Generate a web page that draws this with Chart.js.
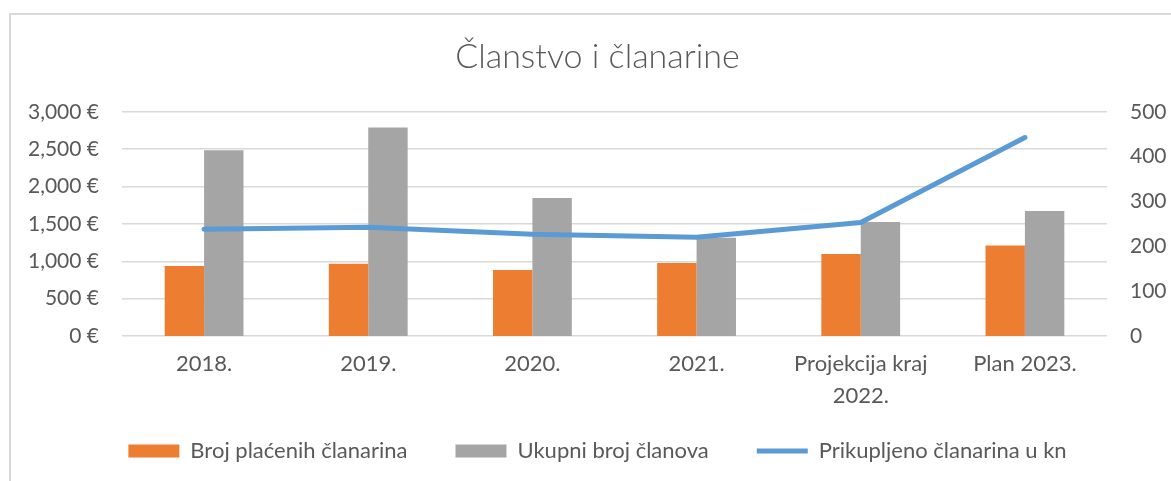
<!DOCTYPE html>
<html>
<head>
<meta charset="utf-8">
<script src="https://cdn.jsdelivr.net/npm/chart.js@4"></script>
<style>
  html, body { margin: 0; padding: 0; background: #fff; overflow: hidden; }
  #frame { position: absolute; left: 9px; top: 13px; width: 1300px; height: 600px;
           border-top: 2px solid #d9d9d9; border-left: 2px solid #d9d9d9; }
  #chart { position: absolute; left: 0; top: 0; }
</style>
</head>
<body>
<div id="frame"></div>
<canvas id="chart" width="1171" height="481"></canvas>
<script>
// values
let categories = ['2018.', '2019.', '2020.', '2021.', ['Projekcija kraj', '2022.'], 'Plan 2023.'];
let paidFees = [156, 161, 147, 163, 183, 202];        // Broj plaćenih članarina
let totalMembers = [414, 465, 308, 219, 254, 279];    // Ukupni broj članova
let collectedFees = [1429, 1455, 1362, 1320, 1518, 2656]; // Prikupljeno članarina u kn
let euroTicks = [0, 500, 1000, 1500, 2000, 2500, 3000];
let countTicks = [0, 100, 200, 300, 400, 500];

const textColor = '#595959';
const gridColor = '#d9d9d9';
Chart.defaults.font.family = 'Lato, "Open Sans", sans-serif';
Chart.defaults.color = textColor;

function withCommas(v) {
    return String(v).replace(/\B(?=(\d{3})+(?!\d))/g, ',');
}

let ctx = document.getElementById('chart').getContext('2d');
let membersChart = new Chart(ctx, {
    type: 'bar',
    data: {
        labels: categories,
        datasets: [{
            label: 'Broj plaćenih članarina',
            data: paidFees,
            backgroundColor: '#ed7d31',
            yAxisID: 'yCount',
            pointStyle: 'rect',
            order: 1
        }, {
            label: 'Ukupni broj članova',
            data: totalMembers,
            backgroundColor: '#a5a5a5',
            yAxisID: 'yCount',
            pointStyle: 'rect',
            order: 1
        }, {
            type: 'line',
            label: 'Prikupljeno članarina u kn',
            data: collectedFees,
            borderColor: '#5b9bd5',
            backgroundColor: '#5b9bd5',
            borderWidth: 5,
            borderCapStyle: 'round',
            borderJoinStyle: 'round',
            pointRadius: 0,
            pointStyle: 'line',
            tension: 0,
            yAxisID: 'yEuro',
            order: 0
        }]
    },
    options: {
        responsive: false,
        animation: false,
        categoryPercentage: 0.48,
        barPercentage: 1,
        // excel chart area runs past the right edge, so the title centre sits a bit right
        layout: { padding: { top: 0, left: 24, right: 0, bottom: 9 } },
        plugins: {
            title: {
                display: true,
                text: 'Članstvo i članarine',
                color: textColor,
                font: { size: 34, weight: 300, lineHeight: 1.2 },
                padding: { top: 37, bottom: 34 }
            },
            legend: {
                position: 'bottom',
                labels: {
                    usePointStyle: true,
                    pointStyleWidth: 51,
                    boxHeight: 13,
                    padding: 48,
                    color: textColor,
                    font: { size: 22 },
                    sort: (a, b) => a.datasetIndex - b.datasetIndex
                }
            },
            tooltip: { enabled: false }
        },
        scales: {
            x: {
                grid: { display: false },
                border: { display: false },
                ticks: {
                    color: textColor,
                    padding: 4,
                    font: { size: 22, lineHeight: 1.45 },
                    maxRotation: 0,
                    autoSkip: false
                },
                afterFit: (scale) => {
                    scale.height = 56;
                    // let the second label line draw below the shortened axis box
                    scale._computeLabelArea = () => undefined;
                }
            },
            yEuro: {
                position: 'left',
                min: 0,
                max: 3000,
                afterBuildTicks: (scale) => { scale.ticks = euroTicks.map(v => ({ value: v })); },
                grid: { color: gridColor, lineWidth: 1.5, drawTicks: false },
                border: { display: false },
                ticks: {
                    color: textColor,
                    padding: 23,
                    font: { size: 21 },
                    callback: (v) => withCommas(v) + ' €'
                },
                afterFit: (scale) => { scale.width = 98; }
            },
            yCount: {
                position: 'right',
                min: 0,
                max: 500,
                afterBuildTicks: (scale) => { scale.ticks = countTicks.map(v => ({ value: v })); },
                grid: { display: false, drawTicks: false },
                border: { display: false },
                ticks: {
                    color: textColor,
                    padding: 23,
                    font: { size: 21 }
                },
                afterFit: (scale) => { scale.width = 64; }
            }
        }
    }
});
</script>
</body>
</html>
